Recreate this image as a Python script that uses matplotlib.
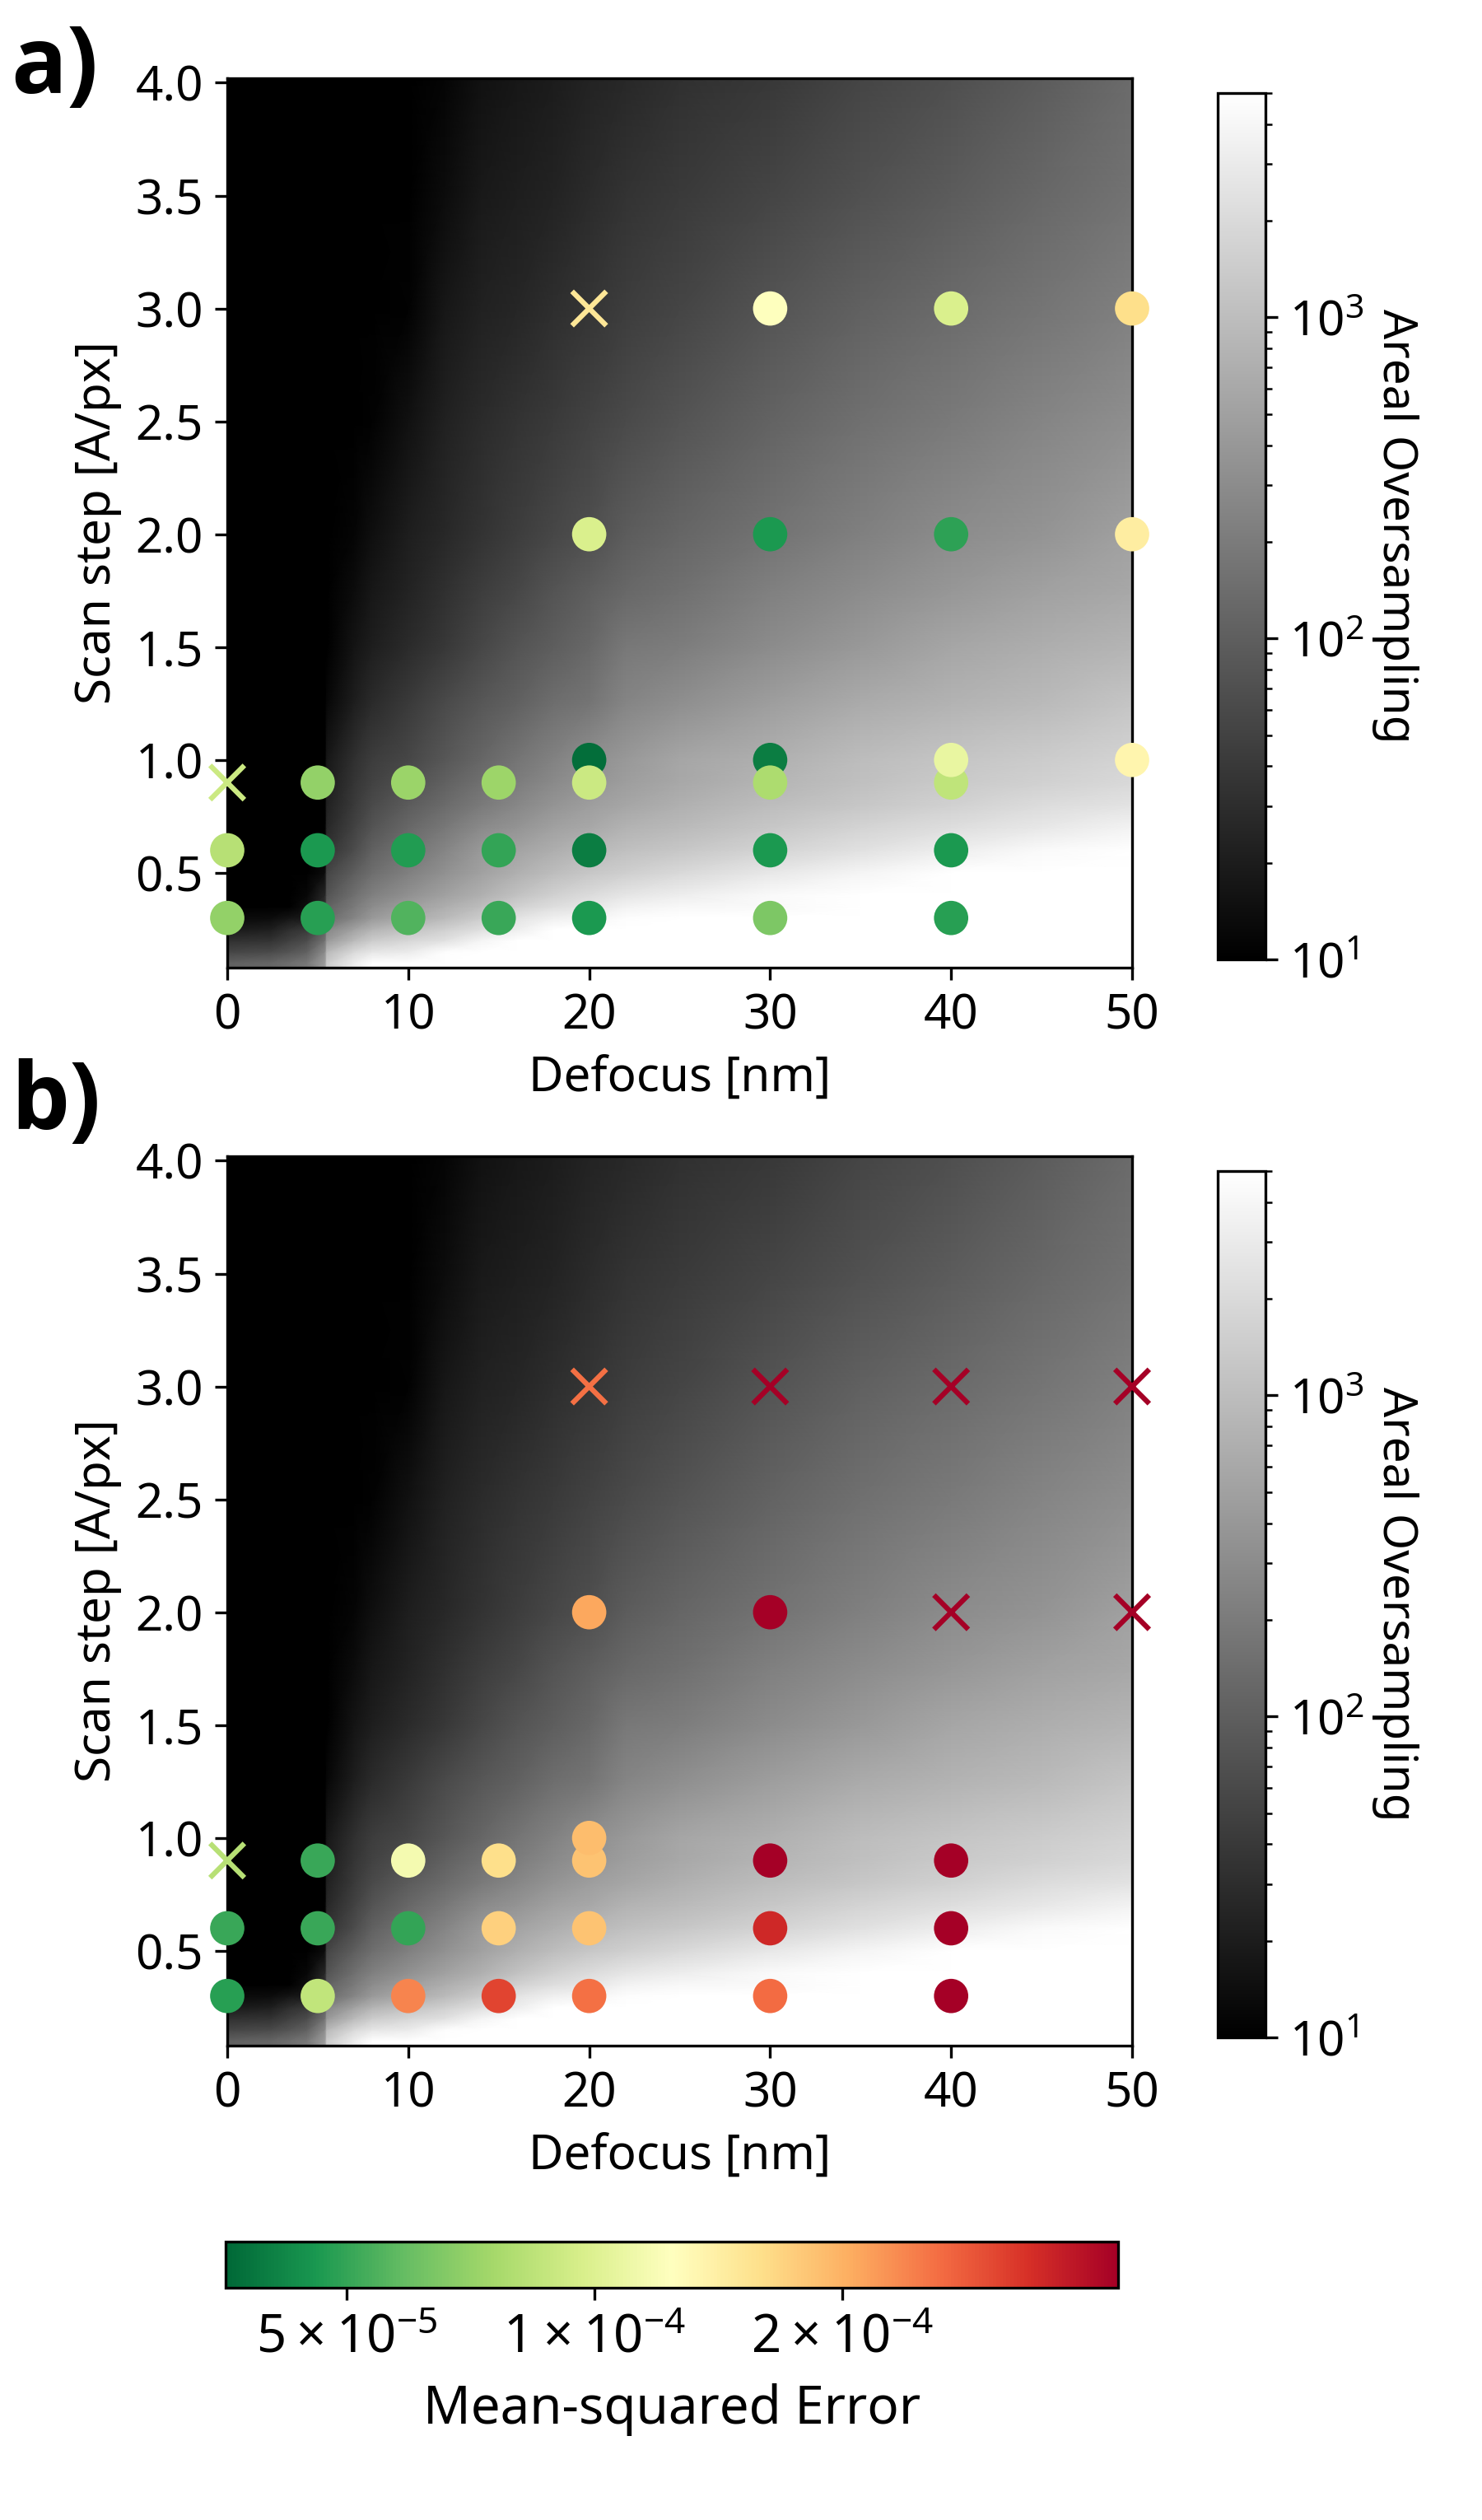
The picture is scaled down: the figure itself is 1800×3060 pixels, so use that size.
import numpy as np
import matplotlib
matplotlib.use('Agg')
import matplotlib.pyplot as plt
from matplotlib.colors import LogNorm
from matplotlib.ticker import FixedLocator, FixedFormatter, NullLocator

plt.rcParams['font.family'] = ['Noto Sans', 'DejaVu Sans']
plt.rcParams['font.size'] = 14

W, H = 1800, 3060

# Background map: columns are defocus [nm], rows are scan step [A/px]
defocus_nodes = [0, 2.4, 3.4, 4.4, 5.4, 5.5, 7, 8, 10, 12, 14, 16, 18, 20, 22, 25, 30, 35, 40, 45, 50]
step_nodes = [0.08, 0.1, 0.15, 0.2, 0.25, 0.3, 0.35, 0.4, 0.5, 0.6, 0.7, 0.8, 0.9, 1.0,
              1.25, 1.5, 1.75, 2.0, 2.5, 3.0, 3.5, 4.02]
# position of the value on the colorbar in percent, read from the gray levels
map_percent = np.array([
    [38, 40, 43, 47, 62, 80, 93, 100, 100, 100, 100, 100, 100, 100, 100, 100, 100, 100, 100, 100, 100],
    [38, 40, 43, 47, 62, 80, 93, 100, 100, 100, 100, 100, 100, 100, 100, 100, 100, 100, 100, 100, 100],
    [27, 29, 33, 38, 55, 72, 85, 90, 92, 99, 100, 100, 100, 100, 100, 100, 100, 100, 100, 100, 100],
    [19, 20, 25, 30, 45, 60, 73, 80, 84, 88, 96, 100, 100, 100, 100, 100, 100, 100, 100, 100, 100],
    [10, 12, 18, 22, 37, 52, 63, 70, 76, 81, 87, 93, 100, 100, 100, 100, 100, 100, 100, 100, 100],
    [4, 5, 8, 10, 22, 42, 52, 60, 67, 73, 80, 89, 94, 96, 99, 100, 100, 100, 100, 100, 100],
    [0, 0, 0, 6, 20, 38, 48, 55, 62, 68, 74, 82, 87, 90, 95, 97, 98, 100, 100, 100, 100],
    [0, 0, 0, 3, 16, 33, 44, 50, 57, 63, 69, 76, 82, 86, 90, 93, 98, 100, 100, 100, 100],
    [0, 0, 0, 0, 5, 27, 37, 43, 50, 57, 63, 69, 74, 78, 81, 85, 91, 96, 100, 100, 100],
    [0, 0, 0, 0, 0, 20, 30, 38, 45, 52, 60, 64, 68, 72, 75, 78, 83, 88, 93, 98, 100],
    [0, 0, 0, 0, 0, 16, 26, 33, 41, 47, 54, 58, 63, 66, 70, 73, 78, 83, 87, 91, 95],
    [0, 0, 0, 0, 0, 13, 23, 29, 36, 42, 48, 53, 58, 62, 65, 69, 74, 78, 82, 86, 89],
    [0, 0, 0, 0, 0, 11, 21, 26, 32, 38, 44, 49, 54, 58, 62, 66, 71, 75, 79, 82, 85],
    [0, 0, 0, 0, 0, 9, 19, 24, 28, 34, 40, 46, 51, 56, 60, 65, 69, 74, 77, 80, 83],
    [0, 0, 0, 0, 0, 3, 12, 17, 23, 29, 34, 38, 43, 46, 52, 56, 62, 67, 70, 73, 77],
    [0, 0, 0, 0, 0, 0, 8, 12, 17, 22, 28, 33, 37, 41, 47, 49, 55, 60, 65, 68, 71],
    [0, 0, 0, 0, 0, 0, 5, 9, 14, 19, 24, 28, 33, 37, 41, 44, 50, 55, 59, 63, 66],
    [0, 0, 0, 0, 0, 0, 2, 6, 12, 16, 20, 24, 28, 31, 36, 40, 45, 50, 55, 58, 63],
    [0, 0, 0, 0, 0, 0, 0, 1, 7, 13, 17, 20, 23, 26, 29, 33, 39, 44, 48, 52, 56],
    [0, 0, 0, 0, 0, 0, 0, 0, 1, 9, 13, 15, 18, 21, 24, 27, 33, 38, 42, 46, 50],
    [0, 0, 0, 0, 0, 0, 0, 0, 0, 5, 10, 12, 14, 17, 20, 23, 27, 32, 36, 41, 45],
    [0, 0, 0, 0, 0, 0, 0, 0, 0, 2, 7, 9, 11, 14, 16, 19, 22, 27, 31, 36, 42],
])
over_min, over_max = 10, 5000

# Reconstruction error at each scan (defocus, step, error), failed scans are the crosses
a_defocus = [30, 40, 50, 20, 30, 40, 50, 20, 30, 40, 50, 5, 10, 15, 20, 30, 40,
             0, 5, 10, 15, 20, 30, 40, 0, 5, 10, 15, 20, 30, 40]
a_step = [3, 3, 3, 2, 2, 2, 2, 1, 1, 1, 1, .9, .9, .9, .9, .9, .9,
          .6, .6, .6, .6, .6, .6, .6, .3, .3, .3, .3, .3, .3, .3]
a_error = [1.24e-4, 9.8e-5, 1.6e-4, 9.8e-5, 4.6e-5, 4.9e-5, 1.43e-4, 3.7e-5, 4.0e-5, 1.08e-4, 1.35e-4,
           7.0e-5, 7.2e-5, 7.3e-5, 9.0e-5, 7.8e-5, 8.5e-5,
           8.2e-5, 4.6e-5, 4.7e-5, 5.0e-5, 4.0e-5, 4.6e-5, 4.6e-5,
           7.0e-5, 4.8e-5, 5.5e-5, 5.1e-5, 4.6e-5, 6.4e-5, 4.8e-5]
a_failed_defocus = [20, 0]
a_failed_step = [3, .9]
a_failed_error = [1.5e-4, 9.0e-5]

b_defocus = [20, 30, 20, 5, 10, 15, 20, 30, 40, 0, 5, 10, 15, 20, 30, 40, 0, 5, 10, 15, 20, 30, 40]
b_step = [2, 2, 1, .9, .9, .9, .9, .9, .9, .6, .6, .6, .6, .6, .6, .6, .3, .3, .3, .3, .3, .3, .3]
b_error = [2.1e-4, 4.5e-4, 1.9e-4, 5.1e-5, 1.15e-4, 1.6e-4, 1.85e-4, 4.5e-4, 4.5e-4,
           5.1e-5, 5.1e-5, 5.0e-5, 1.72e-4, 1.85e-4, 3.5e-4, 4.5e-4,
           4.8e-5, 8.6e-5, 2.4e-4, 3.1e-4, 2.6e-4, 2.65e-4, 4.5e-4]
b_failed_defocus = [20, 30, 40, 50, 40, 50, 0]
b_failed_step = [3, 3, 3, 3, 2, 2, .9]
b_failed_error = [2.6e-4, 4.5e-4, 4.5e-4, 4.5e-4, 4.5e-4, 4.5e-4, 8.2e-5]

error_ticks = [5e-5, 1e-4, 2e-4]
error_tick_labels = [r'$\mathdefault{5\times10^{-5}}$', r'$\mathdefault{1\times10^{-4}}$',
                     r'$\mathdefault{2\times10^{-4}}$']

areal = 10 ** (1 + map_percent / 100 * np.log10(over_max / over_min))
over_norm = LogNorm(over_min, over_max)
error_norm = LogNorm(3.56e-5, 4.33e-4)


def px_axes(fig, left, top, right, bottom):
    return fig.add_axes([left / W, 1 - bottom / H, (right - left) / W, (bottom - top) / H])


def draw_panel(fig, top, letter, letter_y, xs, ys, errs, fx, fy, ferrs):
    bottom = top + 1080
    ax = px_axes(fig, 276, top, 1375, bottom)
    mesh = ax.pcolormesh(defocus_nodes, step_nodes, areal, cmap='gray', norm=over_norm,
                         shading='gouraud', rasterized=True)
    ax.set_xlim(0, 50)
    ax.set_ylim(0.08, 4.02)
    ax.set_yticks([0.5, 1, 1.5, 2, 2.5, 3, 3.5, 4])
    ax.set_xlabel('Defocus [nm]')
    ax.set_ylabel('Scan step [A/px]')

    # higher errors end up on top where circles overlap
    order = np.argsort(errs)
    sc = ax.scatter(np.array(xs)[order], np.array(ys)[order], c=np.array(errs)[order], s=100,
                    cmap='RdYlGn_r', norm=error_norm, clip_on=False, zorder=3, linewidths=0)
    ax.scatter(fx, fy, c=ferrs, s=100, marker='x', cmap='RdYlGn_r', norm=error_norm,
               clip_on=False, zorder=3)

    cax = px_axes(fig, 1479, top + 18, 1537, bottom - 10)
    cb = fig.colorbar(mesh, cax=cax)
    cb.set_label('Areal Oversampling', rotation=270, labelpad=16, fontsize=13.6)

    fig.text(13 / W, 1 - letter_y / H, letter, fontsize=27, family='Open Sans', fontweight='bold',
             va='baseline')
    return sc


fig = plt.figure(figsize=(W / 300, H / 300), dpi=300)

sc = draw_panel(fig, 95, 'a)', 113, a_defocus, a_step, a_error, a_failed_defocus, a_failed_step, a_failed_error)
draw_panel(fig, 1404, 'b)', 1371, b_defocus, b_step, b_error, b_failed_defocus, b_failed_step, b_failed_error)

cax = px_axes(fig, 274, 2722, 1358, 2778)
cb = fig.colorbar(sc, cax=cax, orientation='horizontal')
cb.ax.xaxis.set_major_locator(FixedLocator(error_ticks))
cb.ax.xaxis.set_major_formatter(FixedFormatter(error_tick_labels))
cb.ax.xaxis.set_minor_locator(NullLocator())
cb.ax.tick_params(labelsize=15.2)
cb.set_label('Mean-squared Error', fontsize=15.3, labelpad=5.5)

plt.savefig('out.png', dpi=300)
